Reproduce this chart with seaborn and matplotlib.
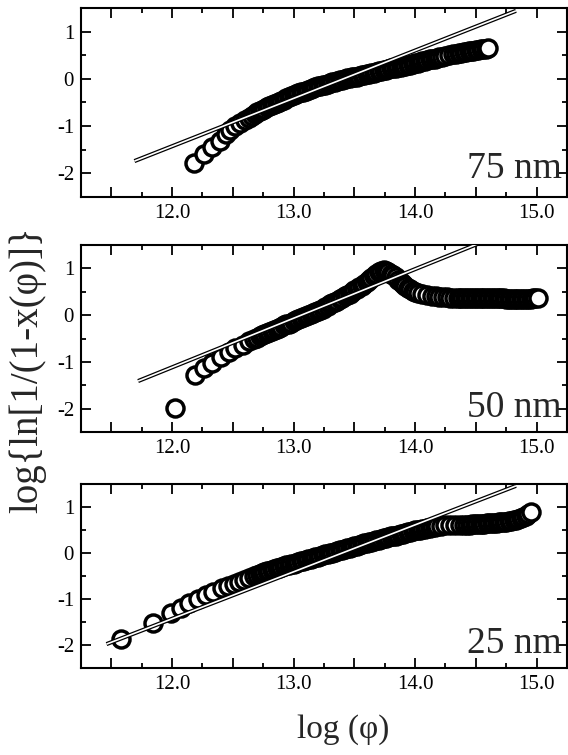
"""Three stacked panels: log{ln[1/(1-x)]} vs log(phi) for 75, 50 and 25 nm films."""
from __future__ import annotations

import matplotlib

matplotlib.use("Agg")
import matplotlib.pyplot as plt
import seaborn as sns
from matplotlib.ticker import FuncFormatter, MultipleLocator

PANEL_LABELS = ["75 nm", "50 nm", "25 nm"]

# 75 nm
x75 = [
    12.18, 12.26, 12.33, 12.39, 12.44, 12.48, 12.52, 12.56, 12.60, 12.63,
    12.66, 12.68, 12.70, 12.72, 12.74, 12.76, 12.78, 12.80, 12.82, 12.84,
    12.86, 12.88, 12.90, 12.92, 12.94, 12.96, 12.98, 13.00, 13.02, 13.04,
    13.06, 13.08, 13.10, 13.12, 13.14, 13.16, 13.18, 13.20, 13.22, 13.24,
    13.26, 13.28, 13.30, 13.32, 13.34, 13.36, 13.38, 13.40, 13.42, 13.44,
    13.46, 13.48, 13.50, 13.52, 13.54, 13.56, 13.58, 13.60, 13.62, 13.64,
    13.66, 13.68, 13.70, 13.72, 13.74, 13.76, 13.78, 13.80, 13.82, 13.84,
    13.86, 13.88, 13.90, 13.92, 13.94, 13.96, 13.98, 14.00, 14.02, 14.04,
    14.06, 14.08, 14.10, 14.12, 14.14, 14.16, 14.18, 14.20, 14.22, 14.25,
    14.28, 14.31, 14.34, 14.36, 14.38, 14.40, 14.42, 14.44, 14.46, 14.48,
    14.50, 14.52, 14.54, 14.56, 14.58, 14.60,
]
y75 = [
    -1.78, -1.59, -1.45, -1.31, -1.17, -1.08, -1.00, -0.93, -0.87, -0.82,
    -0.78, -0.74, -0.71, -0.68, -0.65, -0.63, -0.60, -0.58, -0.55, -0.53,
    -0.51, -0.48, -0.46, -0.44, -0.41, -0.39, -0.37, -0.34, -0.32, -0.30,
    -0.28, -0.27, -0.25, -0.23, -0.21, -0.19, -0.18, -0.16, -0.15, -0.13,
    -0.12, -0.10, -0.09, -0.07, -0.06, -0.04, -0.03, -0.02, 0.00, 0.01,
    0.02, 0.03, 0.04, 0.05, 0.06, 0.08, 0.09, 0.10, 0.11, 0.12,
    0.13, 0.15, 0.16, 0.17, 0.18, 0.19, 0.20, 0.22, 0.23, 0.24,
    0.25, 0.26, 0.27, 0.28, 0.29, 0.30, 0.32, 0.33, 0.34, 0.35,
    0.37, 0.38, 0.39, 0.41, 0.42, 0.43, 0.44, 0.46, 0.47, 0.49,
    0.50, 0.52, 0.53, 0.54, 0.55, 0.56, 0.57, 0.58, 0.59, 0.60,
    0.61, 0.62, 0.63, 0.63, 0.64, 0.65,
]
fit75_x = [11.69, 14.83]
fit75_y = [-1.74, 1.44]

# 50 nm
x50 = [
    12.02, 12.19, 12.26, 12.33, 12.40, 12.47, 12.52, 12.58, 12.63, 12.67,
    12.70, 12.72, 12.74, 12.76, 12.78, 12.80, 12.82, 12.84, 12.86, 12.88,
    12.90, 12.92, 12.94, 12.96, 12.98, 13.00, 13.02, 13.04, 13.06, 13.08,
    13.10, 13.12, 13.14, 13.16, 13.18, 13.20, 13.22, 13.24, 13.26, 13.28,
    13.30, 13.32, 13.34, 13.36, 13.38, 13.40, 13.42, 13.44, 13.46, 13.48,
    13.50, 13.52, 13.54, 13.56, 13.58, 13.60, 13.62, 13.64, 13.66, 13.68,
    13.70, 13.72, 13.74, 13.76, 13.78, 13.80, 13.82, 13.84, 13.86, 13.88,
    13.90, 13.92, 13.94, 13.96, 13.98, 14.00, 14.02, 14.06, 14.10, 14.14,
    14.17, 14.20, 14.23, 14.26, 14.29, 14.32, 14.35, 14.37, 14.39, 14.41,
    14.43, 14.45, 14.47, 14.49, 14.51, 14.53, 14.55, 14.57, 14.59, 14.61,
    14.63, 14.65, 14.67, 14.69, 14.71, 14.73, 14.75, 14.77, 14.79, 14.81,
    14.83, 14.85, 14.87, 14.89, 14.91, 14.93, 14.95, 14.97, 14.99, 15.01,
]
y50 = [
    -1.99, -1.27, -1.13, -1.02, -0.89, -0.79, -0.71, -0.63, -0.56, -0.51,
    -0.48, -0.45, -0.43, -0.40, -0.38, -0.36, -0.34, -0.31, -0.29, -0.27,
    -0.25, -0.22, -0.20, -0.18, -0.16, -0.13, -0.11, -0.09, -0.07, -0.05,
    -0.02, 0.00, 0.02, 0.04, 0.07, 0.09, 0.12, 0.14, 0.17, 0.20,
    0.23, 0.25, 0.28, 0.31, 0.34, 0.37, 0.40, 0.43, 0.46, 0.50,
    0.53, 0.56, 0.60, 0.63, 0.67, 0.71, 0.75, 0.79, 0.84, 0.88,
    0.92, 0.95, 0.96, 0.95, 0.92, 0.89, 0.85, 0.81, 0.76, 0.71,
    0.66, 0.62, 0.58, 0.55, 0.52, 0.50, 0.48, 0.45, 0.43, 0.41,
    0.40, 0.39, 0.38, 0.38, 0.37, 0.37, 0.37, 0.37, 0.37, 0.36,
    0.36, 0.36, 0.36, 0.36, 0.36, 0.36, 0.36, 0.36, 0.36, 0.36,
    0.36, 0.36, 0.36, 0.36, 0.36, 0.36, 0.35, 0.35, 0.35, 0.35,
    0.35, 0.35, 0.35, 0.35, 0.35, 0.35, 0.35, 0.36, 0.36, 0.36,
]
fit50_x = [11.72, 14.53]
fit50_y = [-1.41, 1.54]

# 25 nm
x25 = [
    11.58, 11.84, 11.99, 12.07, 12.14, 12.21, 12.28, 12.34, 12.41, 12.46,
    12.51, 12.55, 12.59, 12.63, 12.67, 12.70, 12.72, 12.74, 12.76, 12.78,
    12.80, 12.82, 12.84, 12.86, 12.88, 12.90, 12.92, 12.94, 12.96, 12.98,
    13.00, 13.02, 13.04, 13.06, 13.08, 13.10, 13.12, 13.14, 13.16, 13.18,
    13.20, 13.22, 13.24, 13.26, 13.28, 13.30, 13.32, 13.34, 13.36, 13.38,
    13.40, 13.42, 13.44, 13.46, 13.48, 13.50, 13.52, 13.54, 13.56, 13.58,
    13.60, 13.62, 13.64, 13.66, 13.68, 13.70, 13.72, 13.74, 13.76, 13.78,
    13.80, 13.82, 13.84, 13.86, 13.88, 13.90, 13.92, 13.94, 13.96, 13.98,
    14.00, 14.02, 14.04, 14.06, 14.08, 14.10, 14.12, 14.14, 14.16, 14.18,
    14.21, 14.25, 14.29, 14.33, 14.37, 14.40, 14.43, 14.45, 14.47, 14.49,
    14.51, 14.53, 14.55, 14.57, 14.59, 14.61, 14.63, 14.65, 14.67, 14.69,
    14.71, 14.73, 14.75, 14.77, 14.79, 14.81, 14.83, 14.85, 14.87, 14.89,
    14.91, 14.93, 14.95,
]
y25 = [
    -1.86, -1.52, -1.30, -1.19, -1.08, -1.00, -0.92, -0.85, -0.77, -0.72,
    -0.67, -0.62, -0.58, -0.54, -0.50, -0.47, -0.45, -0.43, -0.41, -0.39,
    -0.38, -0.36, -0.35, -0.33, -0.32, -0.30, -0.29, -0.27, -0.26, -0.24,
    -0.23, -0.21, -0.20, -0.18, -0.17, -0.15, -0.14, -0.12, -0.11, -0.09,
    -0.08, -0.06, -0.05, -0.03, -0.02, 0.00, 0.01, 0.03, 0.04, 0.06,
    0.07, 0.09, 0.10, 0.12, 0.13, 0.15, 0.16, 0.18, 0.19, 0.21,
    0.22, 0.23, 0.25, 0.26, 0.28, 0.29, 0.30, 0.32, 0.33, 0.34,
    0.36, 0.37, 0.38, 0.40, 0.41, 0.42, 0.44, 0.45, 0.46, 0.48,
    0.49, 0.50, 0.51, 0.52, 0.53, 0.54, 0.55, 0.56, 0.57, 0.58,
    0.59, 0.60, 0.60, 0.61, 0.61, 0.62, 0.62, 0.62, 0.63, 0.63,
    0.63, 0.64, 0.64, 0.64, 0.65, 0.65, 0.65, 0.66, 0.66, 0.67,
    0.67, 0.68, 0.68, 0.69, 0.70, 0.71, 0.72, 0.74, 0.76, 0.78,
    0.81, 0.85, 0.89,
]
fit25_x = [11.46, 14.83]
fit25_y = [-1.98, 1.46]

X_TICK_LABELS = ["12.0", "13.0", "14.0", "15.0"]


def _x_formatter(value: float, _pos: int) -> str:
    """Label only whole decades of log(phi)."""

    text = f"{value:.1f}"
    return text if text in X_TICK_LABELS else ""


def _style_axis(ax: plt.Axes) -> None:
    """Boxed frame, inward ticks on all four sides."""

    ax.set_xlim(11.25, 15.25)
    ax.set_ylim(-2.5, 1.5)
    ax.xaxis.set_major_locator(MultipleLocator(0.5))
    ax.xaxis.set_minor_locator(MultipleLocator(0.25))
    ax.xaxis.set_major_formatter(FuncFormatter(_x_formatter))
    ax.yaxis.set_major_locator(MultipleLocator(1.0))
    ax.yaxis.set_minor_locator(MultipleLocator(0.5))
    ax.yaxis.set_major_formatter(FuncFormatter(lambda v, _p: f"{v:.0f}"))
    ax.tick_params(which="both", direction="in", top=True, right=True, width=1.3,
                   labelsize=15, colors="black")
    ax.tick_params(which="major", length=7, pad=5)
    ax.tick_params(which="minor", length=3.5)
    for spine in ax.spines.values():
        spine.set_linewidth(1.5)
        spine.set_color("black")
    ax.set_xlabel("")
    ax.set_ylabel("")


def _draw_panel(ax, x, y, fit_x, fit_y, label, label_y) -> None:
    """Open circles drawn in measurement order, then the double-stroke fit line."""

    sns.scatterplot(x=x, y=y, ax=ax, s=150, color="white", edgecolor="black",
                    linewidth=2.5, legend=False, zorder=2)
    sns.lineplot(x=fit_x, y=fit_y, ax=ax, color="black", linewidth=3.0,
                 solid_capstyle="butt", zorder=3)
    sns.lineplot(x=fit_x, y=fit_y, ax=ax, color="white", linewidth=1.2,
                 solid_capstyle="butt", zorder=4)
    ax.text(0.99, label_y, label, transform=ax.transAxes, ha="right",
            va="baseline", fontsize=27)
    _style_axis(ax)


def main() -> None:
    sns.set_style("ticks")
    plt.rcParams["font.family"] = ["Liberation Serif", "DejaVu Serif"]
    plt.rcParams["axes.unicode_minus"] = False

    fig = plt.figure(figsize=(5.68, 7.55), dpi=100)
    left, width = 0.1426, 0.8556
    ax1 = fig.add_axes([left, 0.7391, width, 0.2503])
    ax2 = fig.add_axes([left, 0.4278, width, 0.2477])
    ax3 = fig.add_axes([left, 0.1152, width, 0.2437])

    _draw_panel(ax1, x75, y75, fit75_x, fit75_y, PANEL_LABELS[0], 0.10)
    _draw_panel(ax2, x50, y50, fit50_x, fit50_y, PANEL_LABELS[1], 0.08)
    _draw_panel(ax3, x25, y25, fit25_x, fit25_y, PANEL_LABELS[2], 0.08)

    fig.text(0.048, 0.51, "log{ln[1/(1-x(\u03c6)]}", rotation=90, ha="center",
             va="center", fontsize=28)
    fig.text(0.604, 0.033, "log (\u03c6)", ha="center", va="center", fontsize=24)

    fig.savefig("out.png", dpi=100)
    plt.close(fig)


if __name__ == "__main__":
    main()
